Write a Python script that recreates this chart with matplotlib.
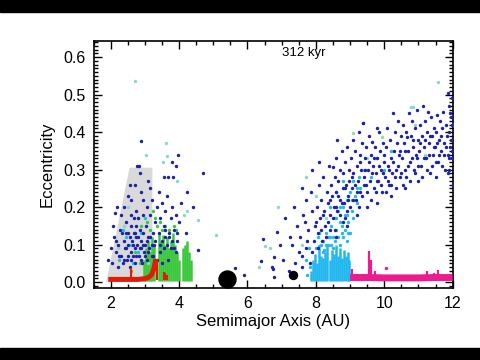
# -*- coding: utf-8 -*-
"""Snapshot of a simulated planetesimal disk at 312 kyr (a vs e)."""

import matplotlib
matplotlib.use("Agg")
import matplotlib.pyplot as plt
from matplotlib.patches import Polygon, Rectangle
from matplotlib.ticker import MultipleLocator

COLORS = {
    "navy": "#1c22a8",
    "cyan": "#22b8ee",
    "teal": "#8ad8cc",
    "green": "#3cc83c",
    "red": "#e01c08",
    "magenta": "#ec1c90",
    "gray": "#d9d9d9",
}

# stable zone outline (gray region)
zone_a = [1.87, 2.55, 3.22, 3.22]
zone_e = [0.0, 0.305, 0.305, 0.0]

# planets: Jupiter, Saturn
planet_a = [5.39, 7.32]
planet_e = [0.007, 0.019]
planet_size = [17, 8]

# scattered planetesimals (navy)
navy_a = [
    6.95, 7.05, 7.1, 7.2, 7.25, 7.3, 7.35, 7.4, 7.45, 7.5,
    7.55, 7.58, 7.6, 7.62, 7.68, 7.7, 7.72, 7.78, 7.82, 7.85, 7.88, 7.9, 7.95, 7.98,
    8.02, 8.05, 8.08, 8.1, 8.12, 8.15, 8.18, 8.22, 8.25, 8.28, 8.32, 8.35, 8.38, 8.4, 8.42, 8.45, 8.48, 8.5,
    8.52, 8.55, 8.58, 8.6, 8.62, 8.63, 8.66, 8.7, 8.72, 8.75, 8.78, 8.8, 8.83, 8.85, 8.86, 8.88, 8.9, 8.93, 8.96, 8.98,
    9.02, 9.05, 9.08, 9.1, 9.13, 9.16, 9.2, 9.22, 9.25, 9.28, 9.3, 9.33, 9.36, 9.38, 9.4, 9.43, 9.46, 9.48,
    9.52, 9.55, 9.58, 9.6, 9.64, 9.66, 9.7, 9.72, 9.75, 9.78, 9.8, 9.83, 9.85, 9.88, 9.9, 9.93, 9.96, 9.98,
    10.02, 10.05, 10.08, 10.1, 10.13, 10.16, 10.2, 10.22, 10.25, 10.28, 10.3, 10.33, 10.36, 10.4, 10.42, 10.45, 10.48,
    10.52, 10.55, 10.58, 10.6, 10.64, 10.67, 10.7, 10.72, 10.75, 10.78, 10.8, 10.83, 10.86, 10.9, 10.92, 10.95, 10.98,
    11.02, 11.05, 11.08, 11.1, 11.13, 11.16, 11.2, 11.22, 11.25, 11.28, 11.3, 11.33, 11.36, 11.4, 11.42, 11.45, 11.48,
    11.52, 11.54, 11.58, 11.6, 11.63, 11.66, 11.7, 11.72, 11.75, 11.78, 11.8, 11.83, 11.86, 11.88, 11.9, 11.93, 11.95, 11.98, 11.85,
    8.6, 8.9, 9.2, 9.5, 9.8, 10.2, 10.6, 11.0, 11.5, 11.9, 12.0, 11.97, 9.38,
    7.6, 7.75, 7.9, 8.0, 8.05, 8.15, 8.2, 8.3, 8.35, 8.4, 8.5, 8.55, 8.6, 8.65, 8.7, 8.75, 8.8, 8.85,
    8.9, 8.95, 9.0, 9.05, 9.1, 9.15, 9.2, 9.25, 9.3, 9.35, 9.4, 9.45, 9.5, 9.55, 9.6, 9.65, 9.7, 9.75,
    9.8, 9.85, 9.9, 9.95, 10.0, 10.05, 10.1, 10.15, 10.2, 10.25, 10.3, 10.35, 10.4, 10.45, 10.5, 10.55,
    10.6, 10.65, 10.7, 10.75, 10.8, 10.85, 10.9, 10.95, 11.0, 11.05, 11.1, 11.15, 11.2, 11.25, 11.3,
    11.35, 11.4, 11.45, 11.5, 11.55, 11.6, 11.65, 11.7, 11.75, 11.8, 11.85, 11.9, 11.95, 11.99, 11.97, 11.92,
    1.92, 2.05, 2.1, 2.13, 2.15, 2.2, 2.22, 2.28, 2.3, 2.35, 2.38, 2.42, 2.45, 2.48, 2.5, 2.52, 2.55, 2.58,
    2.6, 2.62, 2.65, 2.68, 2.7, 2.72, 2.75, 2.78, 2.8, 2.82, 2.85, 2.88, 2.9, 2.92, 2.95, 2.98,
    3.0, 3.03, 3.06, 3.1, 3.13, 3.16, 3.2, 3.23, 3.27, 3.3, 2.4, 2.6, 2.75, 2.9, 3.05, 3.2,
    2.55, 2.85, 3.1, 2.3, 2.95, 2.68,
    3.35, 3.4, 3.45, 3.5, 3.55, 3.6, 3.65, 3.7, 3.75, 3.8, 3.85, 3.9, 3.95, 4.0, 4.05,
    3.45, 3.6, 3.75, 3.9, 3.56, 3.68, 3.83, 3.8, 3.91, 3.97, 2.88, 2.77, 2.83,
    2.15, 2.25, 2.32, 2.4, 2.45, 2.5, 2.55, 2.6, 2.65, 2.7, 2.75, 2.8, 2.85, 2.9, 2.95, 3.0,
    3.05, 3.1, 3.15, 3.2, 3.25, 3.3, 3.4, 3.45, 3.5, 3.55, 3.6, 3.65, 3.7, 3.8, 3.85, 3.95,
    2.02, 2.08, 2.18, 2.6, 2.5, 2.7, 2.95, 3.15, 2.45, 2.75, 3.35, 3.5, 3.68,
    4.7, 4.23, 4.56, 4.2, 4.4,
    5.64, 5.9, 6.45, 6.87, 6.4, 6.78, 6.72, 6.75, 6.78,
]
navy_e = [
    0.1, 0.06, 0.17, 0.03, 0.12, 0.1, 0.2, 0.05, 0.15, 0.08,
    0.12, 0.25, 0.04, 0.18, 0.16, 0.09, 0.22, 0.14, 0.05, 0.24, 0.3, 0.19, 0.11, 0.15,
    0.2, 0.13, 0.26, 0.32, 0.17, 0.22, 0.11, 0.28, 0.19, 0.15, 0.24, 0.21, 0.31, 0.14, 0.18, 0.26, 0.23, 0.306,
    0.2, 0.28, 0.24, 0.33, 0.38, 0.19, 0.27, 0.3, 0.22, 0.35, 0.25, 0.29, 0.21, 0.17, 0.32, 0.26, 0.36, 0.23, 0.3, 0.27,
    0.33, 0.25, 0.38, 0.29, 0.35, 0.22, 0.31, 0.27, 0.4, 0.34, 0.24, 0.3, 0.37, 0.424, 0.28, 0.33, 0.26, 0.36,
    0.3, 0.39, 0.27, 0.34, 0.373, 0.31, 0.25, 0.36, 0.29, 0.41, 0.33, 0.27, 0.4, 0.35, 0.3, 0.24, 0.37, 0.32,
    0.28, 0.36, 0.41, 0.31, 0.26, 0.38, 0.33, 0.29, 0.45, 0.35, 0.4, 0.3, 0.37, 0.43, 0.34, 0.28, 0.39,
    0.33, 0.42, 0.37, 0.3, 0.4, 0.387, 0.35, 0.45, 0.32, 0.39, 0.43, 0.36, 0.3, 0.41, 0.34, 0.46, 0.38,
    0.35, 0.42, 0.31, 0.39, 0.47, 0.36, 0.43, 0.33, 0.4, 0.453, 0.37, 0.29, 0.44, 0.39, 0.34, 0.41, 0.36,
    0.4, 0.445, 0.32, 0.38, 0.43, 0.35, 0.41, 0.453, 0.37, 0.3, 0.42, 0.39, 0.34, 0.47, 0.4, 0.36, 0.44, 0.49, 0.504,
    0.12, 0.15, 0.18, 0.2, 0.21, 0.23, 0.25, 0.27, 0.28, 0.3, 0.26, 0.33, 0.424,
    0.07, 0.11, 0.08, 0.16, 0.09, 0.14, 0.18, 0.12, 0.16, 0.22, 0.17, 0.14, 0.2, 0.23, 0.18, 0.21, 0.16, 0.25,
    0.19, 0.22, 0.2, 0.28, 0.22, 0.26, 0.24, 0.2, 0.32, 0.23, 0.26, 0.3, 0.24, 0.32, 0.22, 0.29, 0.33, 0.24,
    0.27, 0.31, 0.26, 0.29, 0.34, 0.24, 0.27, 0.3, 0.26, 0.32, 0.28, 0.25, 0.31, 0.35, 0.29, 0.26,
    0.35, 0.28, 0.31, 0.27, 0.33, 0.38, 0.29, 0.33, 0.31, 0.37, 0.28, 0.33, 0.38, 0.3, 0.34,
    0.39, 0.31, 0.36, 0.32, 0.37, 0.34, 0.39, 0.31, 0.34, 0.36, 0.29, 0.33, 0.38, 0.35, 0.42, 0.45,
    0.06, 0.05, 0.12, 0.185, 0.08, 0.04, 0.1, 0.14, 0.07, 0.05, 0.11, 0.09, 0.16, 0.06, 0.13, 0.1, 0.04, 0.08,
    0.15, 0.11, 0.07, 0.13, 0.09, 0.05, 0.12, 0.1, 0.17, 0.07, 0.14, 0.09, 0.11, 0.05, 0.13, 0.08,
    0.1, 0.15, 0.06, 0.12, 0.09, 0.18, 0.07, 0.13, 0.1, 0.16, 0.2, 0.22, 0.19, 0.24, 0.2, 0.22,
    0.26, 0.29, 0.27, 0.18, 0.18, 0.17,
    0.2, 0.24, 0.17, 0.21, 0.15, 0.19, 0.23, 0.13, 0.17, 0.2, 0.14, 0.18, 0.11, 0.16, 0.21,
    0.1, 0.12, 0.09, 0.08, 0.28, 0.28, 0.28, 0.32, 0.31, 0.34, 0.376, 0.31, 0.31,
    0.11, 0.07, 0.13, 0.06, 0.09, 0.07, 0.12, 0.06, 0.1, 0.13, 0.07, 0.12, 0.09, 0.06, 0.1, 0.07,
    0.11, 0.08, 0.12, 0.1, 0.07, 0.11, 0.13, 0.08, 0.11, 0.09, 0.14, 0.1, 0.12, 0.11, 0.09, 0.13,
    0.09, 0.15, 0.2, 0.18, 0.23, 0.26, 0.22, 0.25, 0.13, 0.15, 0.06, 0.05, 0.06,
    0.29, 0.24, 0.085, 0.13, 0.2,
    0.037, 0.02, 0.115, 0.133, 0.056, 0.067, 0.04, 0.035, 0.013,
]

# faint teal particles
teal_a = [2.71, 3.62, 3.03, 3.65, 3.53, 3.94, 4.23, 4.15, 4.56, 5.08, 6.5, 6.66, 6.34, 6.9,
          11.57, 10.78, 10.85, 9.09, 9.93, 2.5, 2.4, 2.7, 2.2, 3.1, 7.7, 8.0, 8.3, 7.6,
          10.9, 11.2, 9.5, 12.0]
teal_e = [0.536, 0.37, 0.34, 0.335, 0.32, 0.27, 0.19, 0.18, 0.165, 0.125, 0.095, 0.09, 0.04, 0.2,
          0.533, 0.467, 0.467, 0.398, 0.386, 0.2, 0.15, 0.12, 0.09, 0.05, 0.28, 0.23, 0.17, 0.1,
          0.42, 0.34, 0.33, 0.42]

# cyan particles (outer population)
cyan_a = [8.2, 8.3, 8.35, 8.45, 8.5, 8.55, 8.6, 8.65, 8.7, 8.75, 8.8, 8.85, 8.9, 8.95, 9.0,
          9.05, 9.1, 9.15, 9.2, 9.25, 8.4, 8.6, 8.8, 9.3, 9.4, 9.6, 9.8, 10.0, 10.2,
          7.7, 7.75, 7.8, 7.82, 8.05, 8.1, 8.25, 8.45, 8.7, 8.9, 9.0,
          8.0, 8.1, 8.2, 8.3, 8.4, 8.5, 8.55, 8.65, 8.75, 8.8, 8.85, 8.95, 8.6, 8.7,
          8.9, 9.05, 9.1, 9.2, 8.15, 8.35,
          2.25, 2.45, 2.6, 2.8, 2.9, 3.0, 2.35, 2.65]
cyan_e = [0.11, 0.13, 0.1, 0.15, 0.12, 0.17, 0.14, 0.19, 0.16, 0.13, 0.2, 0.18, 0.22, 0.16, 0.24,
          0.19, 0.27, 0.23, 0.21, 0.28, 0.2, 0.24, 0.27, 0.25, 0.3, 0.28, 0.33, 0.3, 0.35,
          0.06, 0.02, 0.09, 0.04, 0.12, 0.095, 0.085, 0.1, 0.1, 0.11, 0.13,
          0.09, 0.13, 0.08, 0.1, 0.12, 0.09, 0.11, 0.12, 0.15, 0.12, 0.14, 0.13, 0.17, 0.2,
          0.18, 0.22, 0.17, 0.25, 0.1, 0.12,
          0.06, 0.12, 0.1, 0.08, 0.13, 0.17, 0.14, 0.05]

# dense cyan columns near e ~ 0
cyan_col_a = [7.86, 7.92, 7.98, 8.04, 8.10, 8.16, 8.22, 8.28, 8.34, 8.40,
              8.46, 8.52, 8.58, 8.64, 8.70, 8.76, 8.82, 8.88, 8.94, 8.98]
cyan_col_top = [0.03, 0.06, 0.075, 0.05, 0.09, 0.07, 0.065, 0.08, 0.095, 0.06,
                0.085, 0.075, 0.1, 0.07, 0.09, 0.065, 0.085, 0.07, 0.08, 0.06]

# green columns (middle population)
green_col_a = [2.98, 3.04, 3.10, 3.16, 3.22, 3.28, 3.40, 3.46, 3.52, 3.58, 3.64,
               3.70, 3.76, 3.82, 3.88, 3.94, 4.00, 4.12, 4.18, 4.24, 4.30, 4.36]
green_col_top = [0.06, 0.09, 0.11, 0.08, 0.12, 0.1, 0.13, 0.11, 0.125, 0.1, 0.12,
                 0.09, 0.11, 0.13, 0.1, 0.08, 0.06, 0.09, 0.1, 0.11, 0.08, 0.06]
green_a = [2.8, 2.9, 3.05, 3.15, 3.3, 3.35, 3.45, 3.5, 3.6, 3.7, 3.85, 2.7, 2.85, 2.6, 3.25, 3.9]
green_e = [0.17, 0.15, 0.16, 0.14, 0.17, 0.15, 0.16, 0.14, 0.15, 0.14, 0.15, 0.08, 0.05, 0.03, 0.19, 0.14]

# red inner belt
red_a = [1.93, 2.2, 2.5, 2.8, 3.0, 3.12, 3.2, 3.26, 3.3, 3.32]
red_e = [0.007, 0.007, 0.007, 0.007, 0.009, 0.013, 0.02, 0.035, 0.052, 0.062]
red_spike_a = [2.6, 3.35, 3.55, 3.6, 3.64]
red_spike_top = [0.037, 0.06, 0.027, 0.025, 0.02]

# magenta outer belt
mag_a = [9.0, 9.5, 10.0, 10.5, 11.0, 11.5, 12.0]
mag_e = [0.012, 0.012, 0.011, 0.011, 0.011, 0.012, 0.012]
mag_spike_a = [9.05, 9.35, 9.56, 9.6, 9.72, 11.25, 11.45, 11.58, 11.8]
mag_spike_top = [0.035, 0.022, 0.083, 0.06, 0.03, 0.03, 0.025, 0.032, 0.02]
mag_dot_a = [10.05]
mag_dot_e = [0.037]


def main() -> None:
    plt.rcParams.update({
        "font.family": ["Liberation Sans", "DejaVu Sans"],
        "xtick.direction": "in",
        "ytick.direction": "in",
    })

    fig = plt.figure(figsize=(4.8, 3.6), dpi=100)
    # letterbox bars
    fig.patches.append(Rectangle((0, 1 - 12 / 360), 1, 12 / 360, transform=fig.transFigure,
                                 color="black", zorder=0))
    fig.patches.append(Rectangle((0, 0), 1, 12 / 360, transform=fig.transFigure,
                                 color="black", zorder=0))

    ax = fig.add_axes([0.195, 0.2, 0.748, 0.686])

    ax.add_patch(Polygon(list(zip(zone_a, zone_e)), closed=True,
                         facecolor=COLORS["gray"], edgecolor="none", zorder=1))

    ax.vlines(green_col_a, 0.004, green_col_top, color=COLORS["green"], linewidth=1.8, zorder=2)
    ax.scatter(green_a, green_e, s=6, color=COLORS["green"], linewidths=0, zorder=2)
    ax.vlines(cyan_col_a, 0.004, cyan_col_top, color=COLORS["cyan"], linewidth=1.8, zorder=2)

    ax.scatter(teal_a, teal_e, s=6, color=COLORS["teal"], linewidths=0, zorder=3)
    ax.scatter(cyan_a, cyan_e, s=6, color=COLORS["cyan"], linewidths=0, zorder=3)
    ax.scatter(navy_a, navy_e, s=6, color=COLORS["navy"], linewidths=0, zorder=4)

    ax.plot(red_a, red_e, color=COLORS["red"], linewidth=3.6, solid_capstyle="butt", zorder=5)
    ax.vlines(red_spike_a, 0.005, red_spike_top, color=COLORS["red"], linewidth=1.5, zorder=5)
    ax.plot(mag_a, mag_e, color=COLORS["magenta"], linewidth=5, solid_capstyle="butt", zorder=5)
    ax.vlines(mag_spike_a, 0.01, mag_spike_top, color=COLORS["magenta"], linewidth=1.6, zorder=5)
    ax.scatter(mag_dot_a, mag_dot_e, s=6, color=COLORS["magenta"], linewidths=0, zorder=5)

    for a, e, d in zip(planet_a, planet_e, planet_size):
        ax.plot(a, e, marker="o", markersize=d * 0.72, color="black", zorder=6)

    ax.set_xlim(1.5, 12.0)
    ax.set_ylim(-0.016, 0.643)
    ax.xaxis.set_major_locator(MultipleLocator(2))
    ax.xaxis.set_minor_locator(MultipleLocator(0.5))
    ax.yaxis.set_major_locator(MultipleLocator(0.1))
    ax.yaxis.set_minor_locator(MultipleLocator(0.01))
    ax.tick_params(which="both", top=True, right=True, labelsize=11.5, width=1.0)
    ax.tick_params(which="major", length=6, pad=6)
    ax.tick_params(which="minor", length=3)
    for spine in ax.spines.values():
        spine.set_linewidth(1.2)

    ax.set_xlabel("Semimajor Axis (AU)", fontsize=12, labelpad=2)
    ax.set_ylabel("Eccentricity", fontsize=12, labelpad=6)
    ax.text(0.584, 0.951, "312 kyr", transform=ax.transAxes, ha="center", va="center",
            fontsize=9.5)

    fig.savefig("out.png", dpi=100)
    plt.close(fig)


if __name__ == "__main__":
    main()
